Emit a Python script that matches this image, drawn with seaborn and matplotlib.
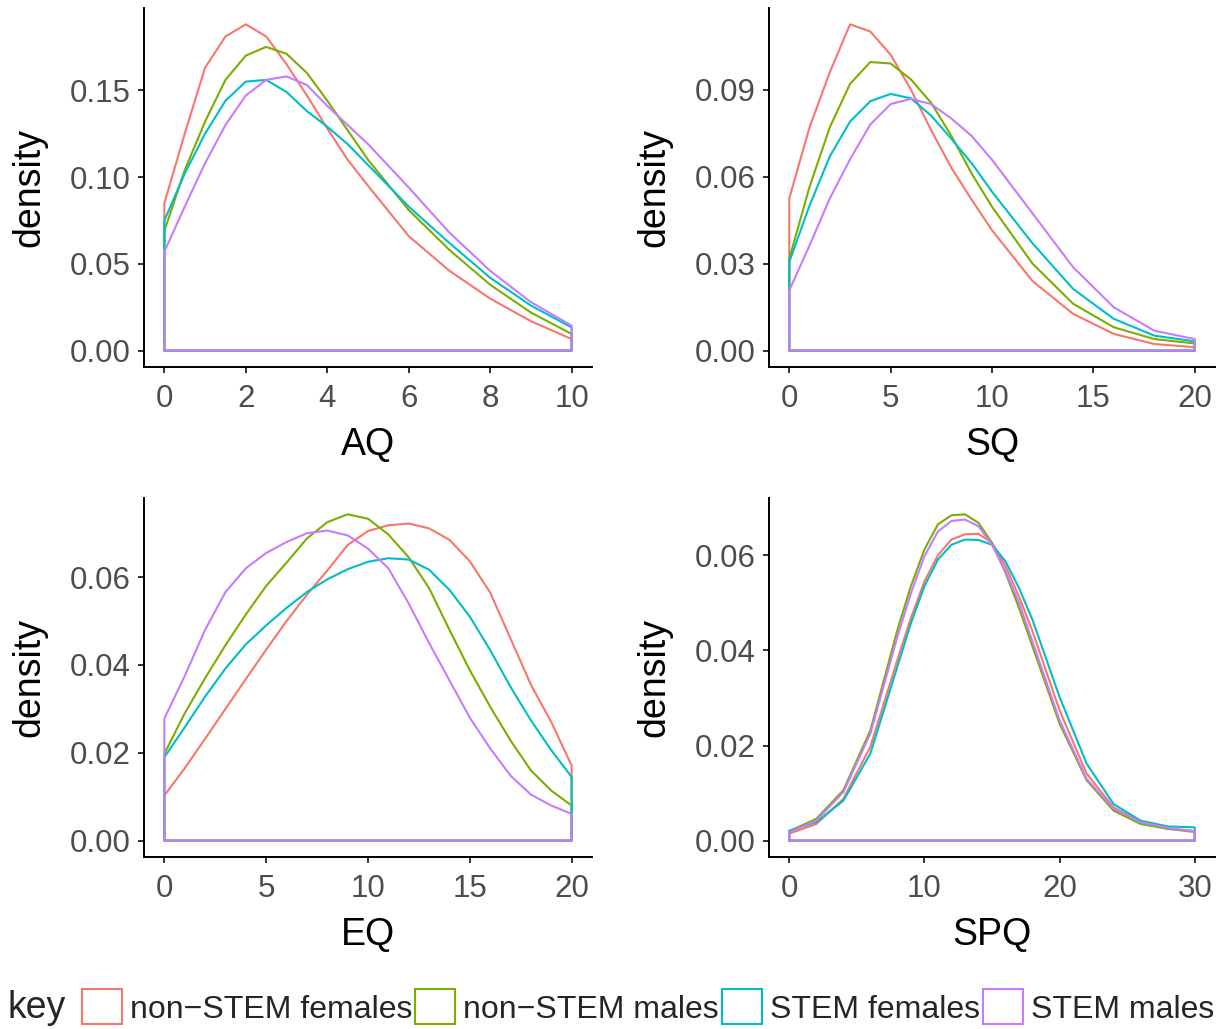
import numpy as np
import pandas as pd
import matplotlib
matplotlib.use('Agg')
import matplotlib.pyplot as plt
from matplotlib.patches import Patch
from matplotlib.ticker import FormatStrFormatter
import seaborn as sns

# ── legend groups (ggplot default hue palette) ──
KEYS   = ['non−STEM females', 'non−STEM males', 'STEM females', 'STEM males']
COLORS = ['#F8766D', '#7CAE00', '#00BFC4', '#C77CFF']

# ── AQ densities ──
AQ_X       = [0, 0.5, 1, 1.5, 2, 2.5, 3, 3.5, 4, 4.5, 5, 6, 7, 8, 9, 10]
AQ_NSTEM_F = [0.085, 0.125, 0.163, 0.181, 0.188, 0.181, 0.165, 0.147, 0.128, 0.110, 0.095, 0.066, 0.046, 0.030, 0.017, 0.0067]
AQ_NSTEM_M = [0.069, 0.104, 0.132, 0.156, 0.170, 0.175, 0.171, 0.160, 0.144, 0.127, 0.110, 0.081, 0.058, 0.038, 0.022, 0.0096]
AQ_STEM_F  = [0.075, 0.102, 0.125, 0.144, 0.155, 0.156, 0.149, 0.138, 0.129, 0.119, 0.107, 0.083, 0.062, 0.042, 0.026, 0.0134]
AQ_STEM_M  = [0.057, 0.083, 0.108, 0.130, 0.147, 0.156, 0.158, 0.153, 0.141, 0.130, 0.119, 0.094, 0.068, 0.046, 0.028, 0.0144]

# ── SQ densities ──
SQ_X       = [0, 1, 2, 3, 4, 5, 6, 7, 8, 9, 10, 12, 14, 16, 18, 20]
SQ_NSTEM_F = [0.0525, 0.077, 0.096, 0.1125, 0.110, 0.102, 0.090, 0.076, 0.063, 0.052, 0.0415, 0.024, 0.0127, 0.0058, 0.0023, 0.0012]
SQ_NSTEM_M = [0.0317, 0.0565, 0.077, 0.092, 0.0995, 0.0990, 0.0935, 0.0854, 0.074, 0.061, 0.0496, 0.030, 0.0162, 0.0081, 0.004, 0.0025]
SQ_STEM_F  = [0.0306, 0.050, 0.067, 0.079, 0.086, 0.0885, 0.087, 0.081, 0.073, 0.0646, 0.0548, 0.037, 0.0213, 0.011, 0.0052, 0.0032]
SQ_STEM_M  = [0.0208, 0.0363, 0.0525, 0.066, 0.078, 0.085, 0.0868, 0.085, 0.080, 0.074, 0.0658, 0.0473, 0.0288, 0.015, 0.0069, 0.004]

# ── EQ densities ──
EQ_X       = list(range(0, 21))
EQ_NSTEM_F = [0.0103, 0.0165, 0.0232, 0.0300, 0.0368, 0.0435, 0.050, 0.056, 0.0615, 0.0673, 0.0705,
              0.0718, 0.0722, 0.0711, 0.0685, 0.0636, 0.0565, 0.046, 0.0355, 0.027, 0.0171]
EQ_NSTEM_M = [0.0198, 0.029, 0.037, 0.0445, 0.0515, 0.058, 0.0633, 0.0688, 0.0725, 0.0743, 0.0733,
              0.0697, 0.0645, 0.0575, 0.048, 0.0388, 0.0305, 0.0228, 0.016, 0.0114, 0.008]
EQ_STEM_F  = [0.019, 0.0258, 0.0328, 0.0392, 0.0447, 0.0490, 0.0530, 0.0566, 0.0595, 0.0618, 0.0635,
              0.0643, 0.064, 0.0617, 0.0571, 0.051, 0.0434, 0.035, 0.0274, 0.0206, 0.0145]
EQ_STEM_M  = [0.0278, 0.0375, 0.048, 0.0566, 0.062, 0.0655, 0.068, 0.0700, 0.0706, 0.0695, 0.0665,
              0.062, 0.054, 0.045, 0.0365, 0.028, 0.021, 0.0148, 0.0105, 0.008, 0.0061]

# ── SPQ densities ──
SPQ_X       = [0, 2, 4, 6, 8, 9, 10, 11, 12, 13, 14, 15, 16, 17, 18, 20, 22, 24, 26, 28, 30]
SPQ_NSTEM_F = [0.0015, 0.0035, 0.0088, 0.0197, 0.038, 0.0468, 0.0545, 0.060, 0.0633, 0.0644, 0.0645,
               0.0626, 0.0577, 0.0513, 0.044, 0.0274, 0.0141, 0.007, 0.0039, 0.0025, 0.0018]
SPQ_NSTEM_M = [0.002, 0.0046, 0.0106, 0.0232, 0.0443, 0.0535, 0.0612, 0.0665, 0.0684, 0.0686, 0.0668,
               0.0626, 0.0563, 0.0489, 0.0408, 0.0246, 0.0127, 0.0063, 0.0035, 0.0025, 0.002]
SPQ_STEM_F  = [0.0021, 0.0039, 0.0084, 0.0183, 0.0366, 0.0457, 0.0535, 0.0591, 0.0622, 0.0633, 0.0632,
               0.0622, 0.0587, 0.0531, 0.0464, 0.0302, 0.0162, 0.0077, 0.0042, 0.0030, 0.0028]
SPQ_STEM_M  = [0.0018, 0.0042, 0.0102, 0.0225, 0.0429, 0.052, 0.0598, 0.065, 0.0672, 0.0675, 0.0661,
               0.0622, 0.0566, 0.050, 0.0418, 0.0253, 0.013, 0.0067, 0.0039, 0.0027, 0.002]

PANELS = [
    ('AQ',  AQ_X,  [AQ_NSTEM_F, AQ_NSTEM_M, AQ_STEM_F, AQ_STEM_M],
     [0, 2, 4, 6, 8, 10], [0, 0.05, 0.10, 0.15]),
    ('SQ',  SQ_X,  [SQ_NSTEM_F, SQ_NSTEM_M, SQ_STEM_F, SQ_STEM_M],
     [0, 5, 10, 15, 20], [0, 0.03, 0.06, 0.09]),
    ('EQ',  EQ_X,  [EQ_NSTEM_F, EQ_NSTEM_M, EQ_STEM_F, EQ_STEM_M],
     [0, 5, 10, 15, 20], [0, 0.02, 0.04, 0.06]),
    ('SPQ', SPQ_X, [SPQ_NSTEM_F, SPQ_NSTEM_M, SPQ_STEM_F, SPQ_STEM_M],
     [0, 10, 20, 30], [0, 0.02, 0.04, 0.06]),
]

# ══════════════════════════════════════════════════════════════════════════
# long table: each group is a closed outline (baseline → curve → baseline)
# ══════════════════════════════════════════════════════════════════════════
rows = []
for measure, xs, series, _, _ in PANELS:
    for key, ys in zip(KEYS, series):
        pts = [(xs[0], 0.0)] + list(zip(xs, ys)) + [(xs[-1], 0.0), (xs[0], 0.0)]
        for x, y in pts:
            rows.append({'measure': measure, 'key': key, 'score': x, 'density': y})
df = pd.DataFrame(rows)

sns.set_theme(style='ticks')
plt.rcParams['font.family'] = ['Liberation Sans', 'DejaVu Sans']

TICK_FS  = 22.5
LEG_FS   = 23
LABEL_FS = 27
GREY     = '#4D4D4D'

fig = plt.figure(figsize=(12.25, 10.29), dpi=100)
W, H = 1225, 1029
boxes = [(144, 8, 592, 367), (769, 8, 1215, 367),
         (144, 498, 592, 857), (769, 498, 1215, 857)]

for (measure, xs, series, xticks, yticks), (l, t, r, b) in zip(PANELS, boxes):
    ax = fig.add_axes([l / W, 1 - b / H, (r - l) / W, (b - t) / H])
    sub = df[df['measure'] == measure]
    sns.lineplot(data=sub, x='score', y='density', hue='key', hue_order=KEYS,
                 palette=COLORS, sort=False, estimator=None, legend=False,
                 lw=1.5, ax=ax)
    ax.margins(0.05)
    ax.set_xticks(xticks)
    ax.set_yticks(yticks)
    ax.yaxis.set_major_formatter(FormatStrFormatter('%.2f'))
    ax.set_xlabel(measure, fontsize=LABEL_FS, color='black', labelpad=9)
    ax.set_ylabel('density', fontsize=LABEL_FS, color='black', labelpad=16)
    ax.tick_params(axis='x', pad=8)
    ax.tick_params(axis='y', pad=5)
    ax.tick_params(axis='both', labelsize=TICK_FS, labelcolor=GREY, color='#333333',
                   length=4.5, width=1.4)
    sns.despine(ax=ax)
    for s in ['left', 'bottom']:
        ax.spines[s].set_linewidth(1.4)
        ax.spines[s].set_color('black')

# ── legend along the bottom ──
fig.text(8 / W, 1 - 1008 / H, 'key', fontsize=LABEL_FS, va='center', ha='left')
handles = [Patch(facecolor='white', edgecolor=c, linewidth=1.5, label=k)
           for k, c in zip(KEYS, COLORS)]
fig.legend(handles=handles, loc='center left', bbox_to_anchor=(82 / W, 1 - 1007 / H),
           ncol=4, frameon=False, fontsize=LEG_FS, handlelength=1.25, handleheight=1.3,
           handletextpad=0.25, columnspacing=0.1, borderpad=0, borderaxespad=0)

plt.savefig('out.png', dpi=100)
plt.close()
